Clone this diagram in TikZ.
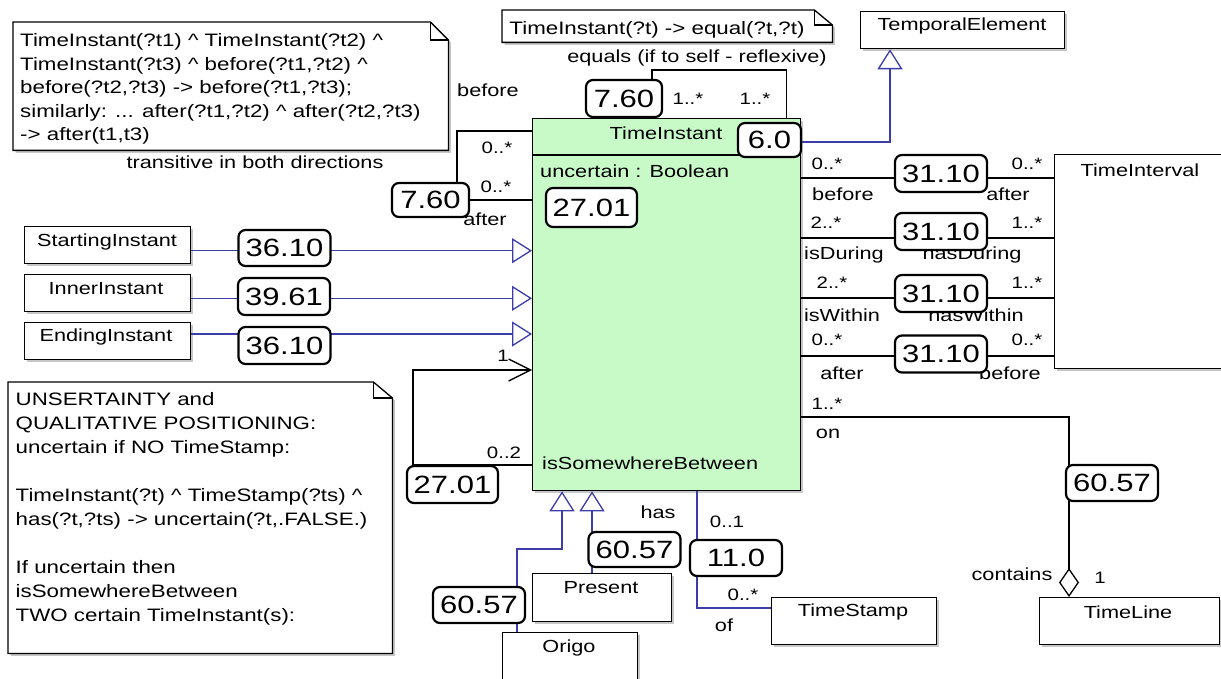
\documentclass[tikz,border=0pt]{standalone}
\usepackage{fontspec}
\setmainfont{Liberation Sans}[FakeStretch=1.24]
\usetikzlibrary{arrows.meta,calc,shadows}
\definecolor{umlblue}{RGB}{60,60,170}
\definecolor{classgreen}{RGB}{200,250,200}
\begin{document}
\begin{tikzpicture}[x=1pt,y=-1pt,
  shad/.style={drop shadow={shadow xshift=2.5pt,shadow yshift=-2.5pt,fill=black,opacity=0.22}},
  cls/.style={draw=black,line width=1.3pt,fill=white,inner sep=0pt,anchor=north west,shad},
  frame/.style={inner sep=0pt,anchor=north west},
  notebox/.style={draw=black,line width=1.3pt,fill=white,shad},
  notetext/.style={font=\fontsize{18}{23.5}\selectfont,align=left,inner sep=0pt,anchor=north west},
  lbl/.style={font=\fontsize{17.5}{20}\selectfont,inner sep=0pt},
  mult/.style={font=\fontsize{16.5}{18}\selectfont,inner sep=0pt},
  badge/.style={draw=black,line width=2.2pt,rounded corners=7pt,fill=white,inner sep=0pt,
    minimum width=92pt,minimum height=37pt,font=\fontsize{25}{25}\selectfont},
  assoc/.style={draw=black,line width=1.3pt},
  gen/.style={draw=umlblue,line width=1.3pt,-{Triangle[length=20pt,width=25pt,fill=white]}},
  blueline/.style={draw=umlblue,line width=1.3pt}
]
\path[fill=white,use as bounding box] (0,0) rectangle (1221,679);

% ---------- notes ----------
\node[frame,minimum width=435pt,minimum height=128pt] (note1) at (13,22) {};
\draw[notebox] (note1.south west) -- (note1.north west) -- ($(note1.north east)+(-18,0)$)
  -- ($(note1.north east)+(0,18)$) -- (note1.south east) -- cycle;
\draw[line width=1.1pt] ($(note1.north east)+(-18,0)$) |- ($(note1.north east)+(0,18)$);
\node[notetext] (note1t) at (20,33.5) {TimeInstant(?t1) \textasciicircum{} TimeInstant(?t2) \textasciicircum\\
TimeInstant(?t3) \textasciicircum{} before(?t1,?t2) \textasciicircum\\
before(?t2,?t3) -> before(?t1,?t3);\\
similarly: ... after(?t1,?t2) \textasciicircum{} after(?t2,?t3)\\
-> after(t1,t3)};

\node[frame,minimum width=330pt,minimum height=32pt] (note2) at (502,10) {};
\draw[notebox] (note2.south west) -- (note2.north west) -- ($(note2.north east)+(-18,0)$)
  -- ($(note2.north east)+(0,15)$) -- (note2.south east) -- cycle;
\draw[line width=1.1pt] ($(note2.north east)+(-18,0)$) |- ($(note2.north east)+(0,15)$);
\node[font=\fontsize{18}{20}\selectfont,inner sep=0pt,anchor=base] (note2t) at (657,35) {TimeInstant(?t) -> equal(?t,?t)};

\node[frame,minimum width=384pt,minimum height=271pt] (note3) at (8,382) {};
\draw[notebox] (note3.south west) -- (note3.north west) -- ($(note3.north east)+(-19,0)$)
  -- ($(note3.north east)+(0,16)$) -- (note3.south east) -- cycle;
\draw[line width=1.1pt] ($(note3.north east)+(-19,0)$) |- ($(note3.north east)+(0,16)$);
\node[notetext,font=\fontsize{18}{24}\selectfont] (note3t) at (15.5,392.5) {UNSERTAINTY and\\
QUALITATIVE POSITIONING:\\
uncertain if NO TimeStamp:\\
\mbox{}\\
TimeInstant(?t) \textasciicircum{} TimeStamp(?ts) \textasciicircum\\
has(?t,?ts) -> uncertain(?t,.FALSE.)\\
\mbox{}\\
If uncertain then\\
isSomewhereBetween\\
TWO certain TimeInstant(s):};

% ---------- classes ----------
\node[cls,fill=classgreen,minimum width=268pt,minimum height=372pt] (ti) at (532,118) {};
\draw[line width=1.2pt] ($(ti.north west)+(0,37)$) -- ($(ti.north east)+(0,37)$);
\node[cls,minimum width=204pt,minimum height=37pt] (te) at (860,11) {};
\node[cls,minimum width=170pt,minimum height=214pt] (tint) at (1054,154) {};
\node[cls,minimum width=166pt,minimum height=37pt] (start) at (24,226) {};
\node[cls,minimum width=166pt,minimum height=37pt] (inner) at (24,274) {};
\node[cls,minimum width=166pt,minimum height=37pt] (ending) at (24,322) {};
\node[cls,minimum width=139pt,minimum height=48pt] (present) at (532,573) {};
\node[cls,minimum width=135pt,minimum height=60pt] (origo) at (502,632) {};
\node[cls,minimum width=165pt,minimum height=47pt] (ts) at (771,597) {};
\node[cls,minimum width=180pt,minimum height=47pt] (tl) at (1039,597) {};

% class texts
\node[lbl] (tiname) at (666,133) {TimeInstant};
\node[lbl,anchor=west] (tiattr) at (540,171) {uncertain : Boolean};
\node[lbl,anchor=west] (tirole) at (542,463) {isSomewhereBetween};
\node[lbl] (tename) at (962,26) {TemporalElement};
\node[lbl] (tintname) at (1140,170) {TimeInterval};
\node[lbl] (startname) at (107,242) {StartingInstant};
\node[lbl] (innername) at (106,289) {InnerInstant};
\node[lbl] (endingname) at (106,337) {EndingInstant};
\node[lbl] (presentname) at (601,588) {Present};
\node[lbl] (origoname) at (569,648) {Origo};
\node[lbl] (tsname) at (853,612) {TimeStamp};
\node[lbl] (tlname) at (1128,612) {TimeLine};

% ---------- connectors ----------
% generalizations
\draw[gen] ($(start.north east)+(0,24.7)$) coordinate (g1) -- (g1 -| ti.west);
\draw[gen] ($(inner.north east)+(0,24.3)$) coordinate (g2) -- (g2 -| ti.west);
\draw[gen] ($(ending.north east)+(0,12)$) coordinate (g3) -- (g3 -| ti.west);
\draw[gen] ($(ti.north east)+(0,24)$) -| ($(te.south west)+(30,0)$);
\draw[gen] ($(origo.north west)+(15,0)$) -- ++(0,-83) -| ($(ti.south west)+(30,0)$);
\draw[gen] ($(present.north west)+(60,0)$) -- ($(ti.south west)+(60,0)$);

% self associations
\draw[assoc] ($(ti.north west)+(120,0)$) -- ++(0,-48) -| ($(ti.north east)+(-15,0)$);
\draw[assoc] ($(ti.north west)+(0,13)$) -- ++(-75,0) |- ($(ti.north west)+(0,82)$);
\draw[assoc,-{Straight Barb[length=22pt,width=22pt]}] ($(ti.north west)+(0,347)$) -- ++(-119,0) |- ($(ti.north west)+(0,252)$);

% associations to TimeInterval
\draw[assoc] ($(ti.north east)+(0,60)$) coordinate (r1) -- (r1 -| tint.west);
\draw[assoc] ($(ti.north east)+(0,120)$) coordinate (r2) -- (r2 -| tint.west);
\draw[assoc] ($(ti.north east)+(0,180)$) coordinate (r3) -- (r3 -| tint.west);
\draw[assoc] ($(ti.north east)+(0,238)$) coordinate (r4) -- (r4 -| tint.west);

% TimeLine aggregation
\draw[assoc,{Diamond[open,length=29pt,width=20pt,fill=white]}-] ($(tl.north west)+(30,0)$) |- ($(ti.north east)+(0,299)$);

% TimeStamp association
\draw[blueline] ($(ti.south west)+(165,0)$) |- ($(ts.north west)+(0,11)$);

% ---------- labels ----------
\node[lbl] (eqlbl) at (697,58) {equals (if to self - reflexive)};
\node[mult] (m1) at (688,99) {1..*};
\node[mult] (m2) at (755,99) {1..*};
\node[lbl] (beforeL) at (488,90) {before};
\node[lbl] (transl) at (255,162) {transitive in both directions};
\node[mult] (m3) at (497,148) {0..*};
\node[mult] (m4) at (496,187) {0..*};
\node[lbl] (afterL) at (485,219) {after};
\node[mult] (m5) at (503,356) {1};
\node[mult] (m6) at (504,453) {0..2};
\node[lbl] (hasl) at (658,512) {has};
\node[mult] (m7) at (727,522) {0..1};
\node[mult] (m8) at (743,595) {0..*};
\node[lbl] (ofl) at (724,625) {of};
\node[mult] (m9) at (827,404) {1..*};
\node[lbl] (onl) at (828,434) {on};
\node[lbl] (contl) at (1012,574) {contains};
\node[mult] (m10) at (1100,578) {1};

\node[mult] (a1) at (827,164) {0..*};
\node[lbl] (a2) at (843,194) {before};
\node[mult] (a3) at (1027,164) {0..*};
\node[lbl] (a4) at (1008,194) {after};
\node[mult] (a5) at (826,223) {2..*};
\node[lbl] (a6) at (844,255) {isDuring};
\node[mult] (a7) at (1027,223) {1..*};
\node[lbl] (a8) at (972,255) {hasDuring};
\node[mult] (a9) at (832,283) {2..*};
\node[lbl] (a10) at (842,315) {isWithin};
\node[mult] (a11) at (1027,283) {1..*};
\node[lbl] (a12) at (976,315) {hasWithin};
\node[mult] (a13) at (827,340) {0..*};
\node[lbl] (a14) at (842,373) {after};
\node[mult] (a15) at (1027,340) {0..*};
\node[lbl] (a16) at (1010,373) {before};

% ---------- badges ----------
\node[badge,minimum width=76pt] (b1) at (624,98.5) {7.60};
\node[badge,minimum width=63pt,minimum height=34pt] (b2) at (769.5,140) {6.0};
\node[badge,minimum width=91pt,minimum height=39pt] (b3) at (591.5,207.5) {27.01};
\node[badge,minimum width=77pt,minimum height=34pt] (b4) at (430.5,200) {7.60};
\node[badge,minimum height=36pt] (b5) at (284.5,248) {36.10};
\node[badge] (b6) at (284,296.5) {39.61};
\node[badge] (b7) at (284.5,345.5) {36.10};
\node[badge,minimum width=91pt] (b8) at (452.5,484.5) {27.01};
\node[badge,minimum height=36pt] (b9) at (479,605) {60.57};
\node[badge,minimum height=35pt] (b10) at (634.5,549.5) {60.57};
\node[badge,minimum height=36pt] (b11) at (736,558) {11.0};
\node[badge,minimum height=36pt] (b12) at (1112,483) {60.57};
\node[badge] (b13) at (941,173.5) {31.10};
\node[badge] (b14) at (941,231.5) {31.10};
\node[badge] (b15) at (941,293.5) {31.10};
\node[badge] (b16) at (941,354) {31.10};
\end{tikzpicture}
\end{document}
